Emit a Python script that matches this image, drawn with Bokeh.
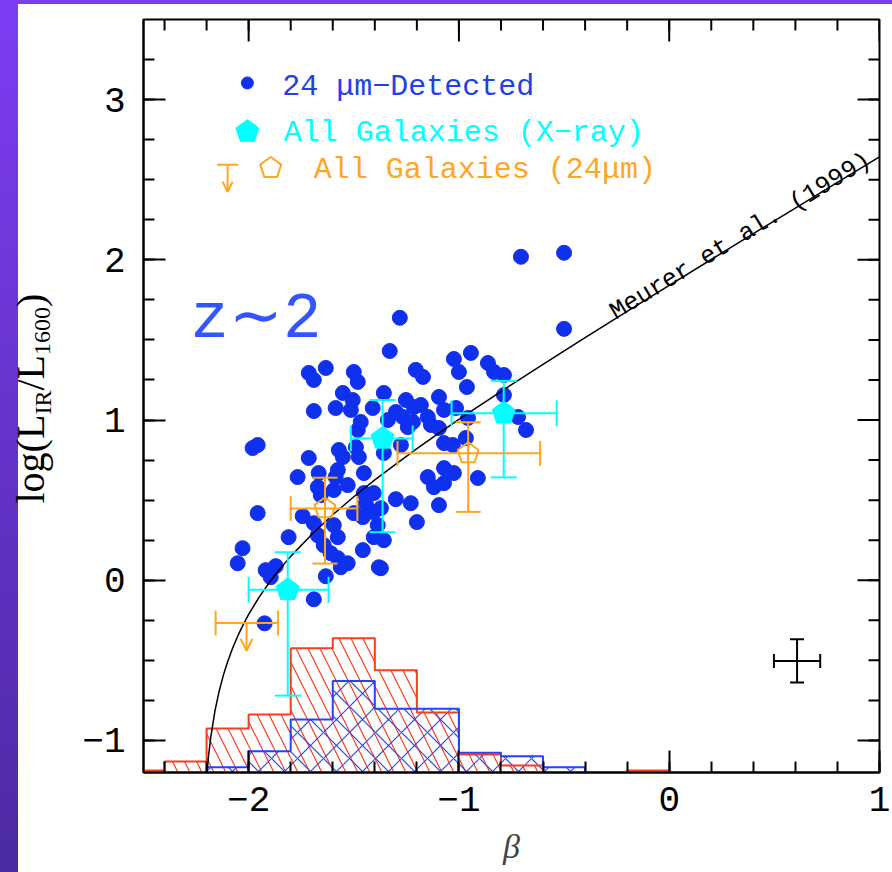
import numpy as np
from bokeh.plotting import figure
from bokeh.models import (ColumnDataSource, Whisker, TeeHead, Arrow, OpenHead, Label,
                          FixedTicker, CustomJSTickFormatter, Spacer, Range1d)
from bokeh.layouts import row, column
from bokeh.embed import file_html
from bokeh.resources import INLINE

# ---------------- data ----------------
BETA_24UM = [-0.705, -0.500, -0.500, -1.281, -1.329, -0.943, -1.024, -1.000, -0.862, -0.833,
             -0.786, -0.962, -0.786, -0.719, -0.681, -1.714, -1.690, -1.633, -1.500, -1.481,
             -1.205, -1.171, -1.357, -1.552, -1.505, -1.514, -1.586, -1.690, -1.410, -1.467,
             -1.481, -1.490, -1.476, -1.571, -1.552, -1.714, -1.957, -1.981, -1.576, -1.667,
             -1.767, -1.357, -1.452, -1.252, -1.181, -1.214, -1.095, -1.071, -1.014, -1.300,
             -1.338, -1.267, -1.243, -1.219, -1.148, -1.133, -1.095, -0.957, -1.071, -1.029,
             -0.967, -1.276, -1.071, -1.024, -1.148, -0.910, -1.119, -1.071, -1.300, -1.229,
             -1.095, -1.200, -1.357, -1.371, -1.671, -1.657, -1.595, -1.529, -1.586, -1.452,
             -1.443, -1.500, -1.457, -1.405, -1.405, -1.690, -1.671, -1.643, -1.610, -1.576,
             -1.529, -1.562, -1.595, -1.576, -1.743, -1.810, -1.957, -2.029, -2.052, -1.919,
             -1.871, -1.895, -1.633, -1.690, -1.457, -1.381, -1.924, -1.371, -1.386, -1.405]
IRX_24UM = [2.019, 2.044, 1.569, 1.638, 1.431, 1.419, 1.381, 1.300, 1.356, 1.300,
            1.281, 1.206, 1.156, 1.019, 0.938, 1.294, 1.250, 1.325, 1.300, 1.238,
            1.313, 1.269, 1.169, 1.169, 1.125, 1.063, 1.075, 1.056, 1.075, 0.988,
            0.938, 0.831, 0.769, 0.813, 0.769, 0.763, 0.844, 0.825, 0.688, 0.669,
            0.644, 0.794, 0.669, 1.125, 1.094, 1.081, 1.144, 1.063, 1.075, 1.050,
            1.000, 1.019, 0.956, 0.988, 1.019, 0.969, 0.950, 1.013, 0.856, 0.844,
            0.888, 0.844, 0.700, 0.669, 0.644, 0.638, 0.581, 0.606, 0.506, 0.481,
            0.469, 0.363, 0.250, 0.075, 0.581, 0.531, 0.563, 0.594, 0.644, 0.544,
            0.481, 0.419, 0.394, 0.425, 0.269, 0.356, 0.281, 0.219, 0.169, 0.138,
            0.106, 0.081, 0.344, 0.269, 0.400, 0.269, 0.419, 0.200, 0.106, 0.063,
            0.088, 0.019, 0.025, -0.119, 0.188, 0.081, -0.269, 0.450, 0.344, 0.544]

XRAY_BETA = [-1.814, -1.363, -0.787]
XRAY_BETA_LO = [-2.000, -1.514, -1.035]
XRAY_BETA_HI = [-1.620, -1.220, -0.535]
XRAY_IRX = [-0.060, 0.885, 1.042]
XRAY_IRX_LO = [-0.720, 0.300, 0.642]
XRAY_IRX_HI = [0.175, 1.125, 1.244]

MIPS_BETA = [-1.637, -0.956]
MIPS_BETA_LO = [-1.800, -1.292]
MIPS_BETA_HI = [-1.483, -0.614]
MIPS_IRX = [0.448, 0.792]
MIPS_IRX_LO = [0.104, 0.427]
MIPS_IRX_HI = [0.640, 0.986]

LIMIT_BETA = [-2.010]
LIMIT_BETA_LO = [-2.157]
LIMIT_BETA_HI = [-1.860]
LIMIT_IRX = [-0.267]
LIMIT_IRX_TIP = [-0.440]

TYP_BETA = [0.608]
TYP_BETA_ERR = [0.11]
TYP_IRX = [-0.504]
TYP_IRX_ERR = [0.135]

HIST_EDGES = [-2.6, -2.4, -2.2, -2.0, -1.8, -1.6, -1.4, -1.2, -1.0, -0.8, -0.6, -0.4, -0.2, 0.0]
HIST_ALL = [0.012, 0.069, 0.275, 0.3625, 0.775, 0.8375, 0.6375, 0.375, 0.1125, 0.044, 0.0, 0.0, 0.012]
HIST_24UM = [0.0, 0.0, 0.033, 0.133, 0.331, 0.571, 0.398, 0.398, 0.123, 0.102, 0.033, 0.0, 0.0]
HIST_BASE = -1.2

MEURER_BETA = [-2.198, -2.19, -2.18, -2.16, -2.14, -2.12, -2.10, -2.075, -2.05, -2.025, -2.0,
               -1.95, -1.9, -1.85, -1.8, -1.7, -1.6, -1.5, -1.4, -1.3, -1.2, -1.1, -1.0, -0.9,
               -0.8, -0.6, -0.4, -0.2, 0.0, 0.2, 0.4, 0.6, 0.8, 1.0]
MEURER_IRX = [-1.202, -1.088, -0.979, -0.814, -0.691, -0.592, -0.509, -0.420, -0.343, -0.275, -0.213,
              -0.105, -0.011, 0.073, 0.149, 0.286, 0.409, 0.521, 0.626, 0.725, 0.821, 0.913, 1.004, 1.092,
              1.178, 1.348, 1.514, 1.678, 1.841, 2.002, 2.163, 2.323, 2.483, 2.643]

X_MAJOR = [-2, -1, 0, 1]
Y_MAJOR = [-1, 0, 1, 2, 3]
X_RANGE = (-2.5, 1.0)
Y_RANGE = (-1.2, 3.5)

# ---------------- style ----------------
BLUE = "#1030f0"
HBLUE = "#2244ff"
CYAN = "#00ffff"
ORANGE = "#ffa51e"
RED = "#f83c1e"
MONO = "Liberation Mono"
SERIF = "Liberation Serif"
BORDER_TOP, FRAME_H, BORDER_BOTTOM = 15, 753, 100

p = figure(x_range=X_RANGE, y_range=Y_RANGE, frame_width=736, frame_height=FRAME_H,
           min_border_left=80, min_border_right=13, min_border_top=BORDER_TOP,
           min_border_bottom=BORDER_BOTTOM,
           output_backend="svg", toolbar_location=None, background_fill_color="white",
           border_fill_color="white", title=None)
p.grid.visible = False
p.outline_line_color = "black"
p.outline_line_width = 2

fmt = CustomJSTickFormatter(code="return tick < 0 ? '\u2212' + Math.abs(tick) : String(tick);")
x_minor = [round(-2.4 + 0.2 * i, 2) for i in range(18)]
y_minor = [round(-1.0 + 0.25 * i, 2) for i in range(18)]
xt = FixedTicker(ticks=X_MAJOR, minor_ticks=x_minor)
yt = FixedTicker(ticks=Y_MAJOR, minor_ticks=y_minor)

for ax, tk in ((p.xaxis[0], xt), (p.yaxis[0], yt)):
    ax.ticker = tk
    ax.formatter = fmt
    ax.axis_line_color = "black"
    ax.axis_line_width = 2
    ax.major_tick_in = 22
    ax.major_tick_out = 0
    ax.minor_tick_in = 11
    ax.minor_tick_out = 0
    ax.major_tick_line_width = 2
    ax.minor_tick_line_width = 2
    ax.major_label_text_font = MONO
    ax.major_label_text_font_size = "36px"
    ax.major_label_text_color = "black"
p.xaxis.major_label_standoff = 14
p.yaxis.major_label_standoff = 18
p.xaxis.axis_label = "\u03b2"
p.xaxis.axis_label_text_font = SERIF
p.xaxis.axis_label_text_font_style = "italic"
p.xaxis.axis_label_text_font_size = "34px"
p.xaxis.axis_label_standoff = 14

# mirrored ticks on the top and right edges (dash markers, half clipped by the frame)
p.scatter(X_MAJOR, [Y_RANGE[1]] * len(X_MAJOR), marker="dash", angle=np.pi / 2, size=44,
          line_color="black", line_width=2)
p.scatter(x_minor, [Y_RANGE[1]] * len(x_minor), marker="dash", angle=np.pi / 2, size=22,
          line_color="black", line_width=2)
p.scatter([X_RANGE[1]] * len(Y_MAJOR), Y_MAJOR, marker="dash", size=44,
          line_color="black", line_width=2)
p.scatter([X_RANGE[1]] * len(y_minor), y_minor, marker="dash", size=22,
          line_color="black", line_width=2)


# ---------------- histograms ----------------
def step_outline(edges, heights, base):
    h = np.asarray(heights, dtype=float)
    nz = np.nonzero(h)[0]
    i0, i1 = nz[0], nz[-1]
    xs = [edges[i0]]
    ys = [base]
    for i in range(i0, i1 + 1):
        xs += [edges[i], edges[i + 1]]
        ys += [base + h[i], base + h[i]]
    xs.append(edges[i1 + 1])
    ys.append(base)
    return xs, ys


edges = np.asarray(HIST_EDGES)
p.quad(left=edges[:-1], right=edges[1:], bottom=HIST_BASE, top=HIST_BASE + np.asarray(HIST_ALL),
       fill_color=None, line_color=None, hatch_pattern="left_diagonal_line",
       hatch_color=RED, hatch_weight=1.2, hatch_scale=24)
p.quad(left=edges[:-1], right=edges[1:], bottom=HIST_BASE, top=HIST_BASE + np.asarray(HIST_24UM),
       fill_color=None, line_color=None, hatch_pattern="diagonal_cross",
       hatch_color=HBLUE, hatch_weight=1.2, hatch_scale=26)
xs, ys = step_outline(HIST_EDGES, HIST_ALL, HIST_BASE)
p.line(xs, ys, line_color=RED, line_width=2)
xs, ys = step_outline(HIST_EDGES, HIST_24UM, HIST_BASE)
p.line(xs, ys, line_color=HBLUE, line_width=2)

# ---------------- scatter + curve ----------------
p.scatter(BETA_24UM, IRX_24UM, marker="circle", size=15, fill_color=BLUE, line_color=BLUE)
p.line(MEURER_BETA, MEURER_IRX, line_color="black", line_width=1.5)


def add_errors(xc, yc, xlo, xhi, ylo, yhi, color, cap):
    s = ColumnDataSource(dict(x=xc, y=yc, xlo=xlo, xhi=xhi, ylo=ylo, yhi=yhi))
    for dim, base, lo, hi in (("height", "x", "ylo", "yhi"), ("width", "y", "xlo", "xhi")):
        w = Whisker(source=s, base=base, lower=lo, upper=hi, dimension=dim,
                    line_color=color, line_width=2, level="annotation",
                    upper_head=TeeHead(size=cap, line_color=color, line_width=2),
                    lower_head=TeeHead(size=cap, line_color=color, line_width=2))
        p.add_layout(w)


add_errors(XRAY_BETA, XRAY_IRX, XRAY_BETA_LO, XRAY_BETA_HI, XRAY_IRX_LO, XRAY_IRX_HI, CYAN, 26)
add_errors(MIPS_BETA, MIPS_IRX, MIPS_BETA_LO, MIPS_BETA_HI, MIPS_IRX_LO, MIPS_IRX_HI, ORANGE, 25)
p.ngon(x=XRAY_BETA, y=XRAY_IRX, radius=12, radius_units="screen", n=5,
       fill_color=CYAN, line_color=CYAN)
p.ngon(x=MIPS_BETA, y=MIPS_IRX, radius=11, radius_units="screen", n=5,
       fill_color=None, line_color=ORANGE, line_width=2)

# upper limit
ls = ColumnDataSource(dict(y=LIMIT_IRX, xlo=LIMIT_BETA_LO, xhi=LIMIT_BETA_HI))
p.add_layout(Whisker(source=ls, base="y", lower="xlo", upper="xhi", dimension="width",
                     line_color=ORANGE, line_width=2, level="annotation",
                     upper_head=TeeHead(size=25, line_color=ORANGE, line_width=2),
                     lower_head=TeeHead(size=25, line_color=ORANGE, line_width=2)))
p.add_layout(Arrow(x_start=LIMIT_BETA[0], y_start=LIMIT_IRX[0], x_end=LIMIT_BETA[0], y_end=LIMIT_IRX_TIP[0],
                   line_color=ORANGE, line_width=2,
                   end=OpenHead(size=12, line_color=ORANGE, line_width=2)))

# typical error bar
tb = np.asarray(TYP_BETA); tbe = np.asarray(TYP_BETA_ERR)
ti = np.asarray(TYP_IRX); tie = np.asarray(TYP_IRX_ERR)
add_errors(TYP_BETA, TYP_IRX, tb - tbe, tb + tbe, ti - tie, ti + tie, "black", 14)

# ---------------- legend ----------------
p.scatter([-2.006], [3.104], marker="circle", size=12, fill_color=BLUE, line_color=BLUE)
p.ngon(x=[-2.006], y=[2.80], radius=12, radius_units="screen", n=5, fill_color=CYAN, line_color=CYAN)
p.ngon(x=[-1.895], y=[2.573], radius=11, radius_units="screen", n=5, fill_color=None,
       line_color=ORANGE, line_width=2)
p.add_layout(Arrow(x_start=-2.10, y_start=2.594, x_end=-2.10, y_end=2.425, line_color=ORANGE, line_width=2,
                   start=TeeHead(size=21, line_color=ORANGE, line_width=2),
                   end=OpenHead(size=10, line_color=ORANGE, line_width=2)))
for tx, ty, txt, col in ((-1.84, 3.081, "24 \u03bcm\u2212Detected", "#2040e8"),
                         (-1.833, 2.789, "All Galaxies (X\u2212ray)", CYAN),
                         (-1.690, 2.560, "All Galaxies (24\u03bcm)", ORANGE)):
    p.add_layout(Label(x=tx, y=ty, text=txt, text_font=MONO, text_font_size="30px",
                       text_color=col, text_baseline="alphabetic"))

p.add_layout(Label(x=-2.276, y=1.625, text="z\u223c2", text_font=MONO, text_font_size="64px",
                   text_color="#3355ff", text_baseline="alphabetic"))
p.add_layout(Label(x=-0.28, y=1.61, x_offset=2, y_offset=8, angle=0.545, text="Meurer et al. (1999)",
                   text_font=MONO, text_font_size="25px", text_color="black", text_baseline="alphabetic"))

# ---------------- left panel: purple strip (CSS background) + y axis title ----------------
YW = 63
STRIP_W = 18
PANEL_BG = ("linear-gradient(to right, rgba(255,255,255,0) %dpx, #ffffff %dpx), "
            "linear-gradient(to bottom, #7d3cf2, #4c2aa3)" % (STRIP_W, STRIP_W))
yfig = figure(x_range=(0, YW), y_range=Range1d(BORDER_TOP + FRAME_H, BORDER_TOP),
              frame_width=YW, frame_height=FRAME_H,
              min_border_left=0, min_border_right=0, min_border_top=BORDER_TOP,
              min_border_bottom=BORDER_BOTTOM,
              x_axis_type=None, y_axis_type=None, output_backend="svg", toolbar_location=None,
              outline_line_color=None, background_fill_alpha=0, border_fill_alpha=0,
              title=None, styles={"background": PANEL_BG})
yfig.grid.visible = False

# y is measured in pixels from the top of this panel
ypieces = (("log(L", 29.5, 0, "40px"), ("IR", 42, 89, "24px"), ("/L", 29.5, 113, "40px"),
           ("1600", 42, 148.6, "24px"), (")", 29.5, 196.6, "40px"))
for txt, bx, dy, fs in ypieces:
    yfig.add_layout(Label(x=bx, y=499 - dy, angle=np.pi / 2, text=txt,
                          text_font=SERIF, text_font_size=fs, text_color="black",
                          text_align="left", text_baseline="alphabetic"))

topbar = Spacer(width=892, height=4, styles={"background": "#7d3cf2"})
layout = column(topbar, row(yfig, p))

open("out.html", "w").write(file_html(layout, INLINE))
